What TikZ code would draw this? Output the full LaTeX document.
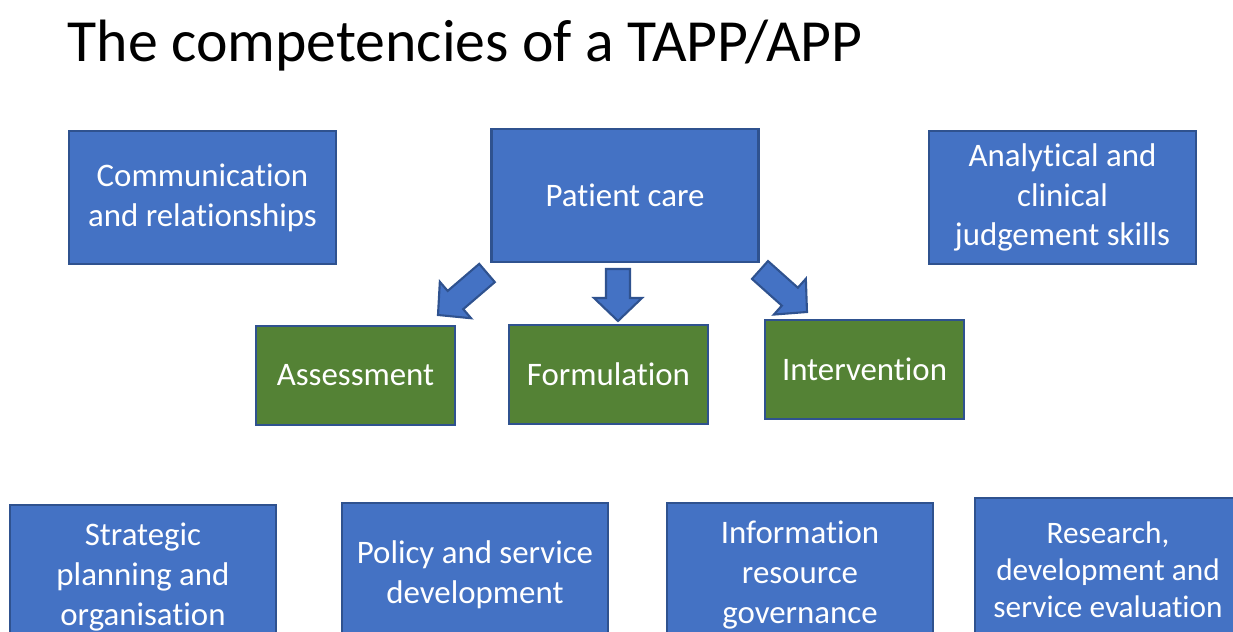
\documentclass[tikz,border=0pt]{standalone}
\usepackage{fontspec}
\setmainfont{Carlito}[Ligatures=NoCommon]
\usetikzlibrary{calc}

\definecolor{boxblue}{HTML}{4472C4}
\definecolor{boxedge}{HTML}{2F528F}
\definecolor{boxgreen}{HTML}{548235}

% block arrow from #1 (tail) to #2 (tip)
\newcommand{\blockarrow}[2]{%
    \coordinate (head) at ($(#2)!2.3mm!(#1)$);
    \draw[blockarrow]
        ($(#1)!1.2mm!90:(#2)$) -- ($(head)!1.2mm!90:(#2)$)
        -- ($(head)!2.4mm!90:(#2)$) -- (#2)
        -- ($(head)!2.4mm!-90:(#2)$) -- ($(head)!1.2mm!-90:(#2)$)
        -- ($(#1)!1.2mm!-90:(#2)$) -- cycle;
}

\begin{document}
\begin{tikzpicture}[x=0.1mm, y=-0.1mm,
    box/.style={draw=boxedge, line width=0.6pt, fill=boxblue, text=white,
        align=center, inner sep=0pt, minimum width=26.7mm, minimum height=13.3mm,
        font=\fontsize{9.35}{11.3}\selectfont},
    task/.style={box, fill=boxgreen, minimum width=19.9mm, minimum height=9.9mm},
    lower/.style={box, minimum width=26.6mm, minimum height=14.4mm},
    blockarrow/.style={draw=boxedge, line width=0.6pt, fill=boxblue, line join=miter}
]
\useasboundingbox (0,0) rectangle (1233,632);
\clip (0,0) rectangle (1233,632);

% =========================
% Title
% =========================
\node[anchor=base west, inner sep=0pt, font=\fontsize{17}{20}\selectfont] (title) at (67,62)
    {The competencies of a TAPP/APP};

% =========================
% Top row
% =========================
\node[box] (comm) at (202.5,197.5) {Communication\\and relationships};
\node[box] (care) at (625,195.5) {Patient care};
\node[box] (analyt) at (1062.5,197.5) {Analytical and\\clinical\\judgement skills};

% =========================
% Patient care tasks
% =========================
\node[task] (assess) at (355.5,375.5) {Assessment};
\node[task] (formul) at (608.5,374.5) {Formulation};
\node[task] (interv) at (864.5,369.5) {Intervention};

% arrows
\coordinate (assessTail) at (487,273);
\coordinate (assessTip) at (438,315);
\coordinate (formulTail) at (618,269);
\coordinate (formulTip) at (618,321);
\coordinate (intervTail) at (760,270);
\coordinate (intervTip) at (807,312);
\foreach \t in {assess,formul,interv}{
    \blockarrow{\t Tail}{\t Tip}
}

% =========================
% Bottom row
% =========================
\node[lower] (strat) at (143,577) {Strategic\\planning and\\organisation};
\node[lower] (policy) at (475,575) {Policy and service\\development};
\node[lower] (info) at (800,575) {Information\\resource\\governance};
\node[lower, font=\fontsize{8.9}{10.6}\selectfont] (research) at (1108,570)
    {Research,\\development and\\service evaluation};

\end{tikzpicture}
\end{document}
